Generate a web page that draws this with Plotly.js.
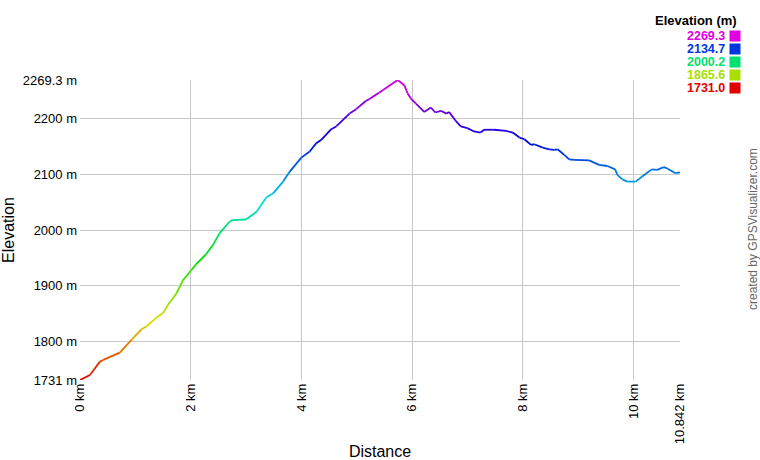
<!DOCTYPE html>
<html>
<head>
<meta charset="utf-8">
<script src="https://cdn.plot.ly/plotly-3.0.1.min.js"></script>
<style>
  html, body { margin: 0; padding: 0; background: #fff; }
  #chart { width: 760px; height: 460px; }
</style>
</head>
<body>
<div id="chart"></div>
<script>
// Track profile: distance (km) and elevation (m)
const distKm = [
  0, 0.18, 0.36, 0.42, 0.72, 0.93, 1.11, 1.20, 1.38, 1.50,
  1.59, 1.74, 1.86, 2.01, 2.10, 2.28, 2.40, 2.52, 2.70, 2.76,
  3.00, 3.19, 3.37, 3.49, 3.67, 3.79, 4.00, 4.15, 4.27, 4.36,
  4.54, 4.63, 4.87, 4.99, 5.17, 5.23, 5.41, 5.47, 5.74, 5.86,
  5.92, 5.98, 6.07, 6.22, 6.34, 6.42, 6.52, 6.62, 6.67, 6.79,
  6.88, 7.00, 7.12, 7.24, 7.30, 7.48, 7.70, 7.82, 7.94, 8.03,
  8.15, 8.21, 8.36, 8.48, 8.57, 8.63, 8.75, 8.84, 8.93, 9.20,
  9.38, 9.53, 9.67, 9.71, 9.80, 9.89, 10.04, 10.16, 10.33, 10.43,
  10.55, 10.62, 10.76, 10.842
];
const elevM = [
  1731, 1740, 1764, 1767, 1780, 1803, 1822, 1827, 1843, 1851,
  1866, 1886, 1910, 1928, 1939, 1957, 1973, 1994, 2015, 2018,
  2019, 2033, 2059, 2066, 2087, 2105, 2130, 2141, 2156, 2162,
  2181, 2186, 2209, 2217, 2232, 2235, 2247, 2251, 2269.3, 2260,
  2245, 2236, 2227, 2212, 2220, 2211, 2214, 2209, 2212, 2196,
  2186, 2183, 2177, 2175, 2180, 2180, 2178, 2175, 2166, 2163,
  2153, 2154, 2148, 2145, 2144, 2145, 2135, 2127, 2126, 2125,
  2117, 2115, 2109, 2099, 2091, 2087, 2087, 2096, 2109, 2108,
  2113, 2110, 2102, 2103.6
];

const yTickVals = [1731, 1800, 1900, 2000, 2100, 2200, 2269.3];
const yTickText = ['1731 m', '1800 m', '1900 m', '2000 m', '2100 m', '2200 m', '2269.3 m'];
const xTickVals = [0, 2, 4, 6, 8, 10, 10.842];
const xTickText = ['0 km', '2 km', '4 km', '6 km', '8 km', '10 km', '10.842 km'];

const legendVals = [2269.3, 2134.7, 2000.2, 1865.6, 1731.0];

const eMin = 1731, eMax = 2269.3;
const FONT = 'Liberation Sans, Arial, sans-serif';

// hue wheel red -> magenta by elevation
function elevColor(e) {
  const h = 300 * (e - eMin) / (eMax - eMin);
  return `hsl(${h.toFixed(1)}, 100%, 44%)`;
}

const traces = [];
for (let i = 0; i < distKm.length - 1; i++) {
  traces.push({
    x: [distKm[i], distKm[i + 1]],
    y: [elevM[i], elevM[i + 1]],
    type: 'scatter',
    mode: 'lines',
    line: { color: elevColor((elevM[i] + elevM[i + 1]) / 2), width: 1.8 },
    hoverinfo: 'skip',
    showlegend: false,
  });
}

// colour key, top right (paper coords relative to 600x300 plot at 80,80)
const px = x => (x - 80) / 600;
const py = y => 1 + (80 - y) / 300;

const annotations = [{
  xref: 'paper', yref: 'paper', x: px(739), y: py(21),
  xanchor: 'right', yanchor: 'middle', showarrow: false,
  text: '<b>Elevation (m)</b>', font: { family: FONT, size: 13, color: '#000' },
}];
legendVals.forEach((v, i) => {
  const yc = 36 + i * 13;
  annotations.push({
    xref: 'paper', yref: 'paper', x: px(726), y: py(yc),
    xanchor: 'right', yanchor: 'middle', showarrow: false,
    text: '<b>' + v.toFixed(1) + '</b>', height: 12, borderpad: 0,
    font: { family: FONT, size: 12.5, color: elevColor(v) },
  });
  annotations.push({
    xref: 'paper', yref: 'paper', x: px(729), y: py(yc),
    xanchor: 'left', yanchor: 'middle', showarrow: false,
    text: ' ', bgcolor: elevColor(v), width: 10, height: 10, borderpad: 0,
    font: { size: 6 },
  });
});
annotations.push({
  xref: 'paper', yref: 'paper', x: px(753), y: py(229),
  xanchor: 'center', yanchor: 'middle', showarrow: false, textangle: -90,
  text: 'created by GPSVisualizer.com',
  font: { family: FONT, size: 12, color: '#666' },
});

const layout = {
  width: 760, height: 460,
  margin: { l: 80, r: 80, t: 80, b: 80 },
  paper_bgcolor: '#fff', plot_bgcolor: '#fff',
  font: { family: FONT, size: 13, color: '#000' },
  showlegend: false,
  xaxis: {
    range: [0, 10.842],
    tickvals: xTickVals, ticktext: xTickText,
    tickangle: -90,
    showgrid: true, gridcolor: '#c8c8c8', gridwidth: 1,
    zeroline: false, showline: false, ticks: '',
    tickfont: { family: FONT, size: 13, color: '#000' },
    title: { text: 'Distance', font: { family: FONT, size: 16, color: '#000' }, standoff: 16 },
    fixedrange: true,
  },
  yaxis: {
    range: [1731, 2269.3],
    tickvals: yTickVals, ticktext: yTickText,
    showgrid: true, gridcolor: '#c8c8c8', gridwidth: 1,
    zeroline: false, showline: false, ticks: '',
    ticklabelstandoff: 2,
    tickfont: { family: FONT, size: 13, color: '#000' },
    title: { text: 'Elevation', font: { family: FONT, size: 16, color: '#000' }, standoff: 4 },
    fixedrange: true,
  },
  annotations: annotations,
};

Plotly.newPlot('chart', traces, layout, { displayModeBar: false, staticPlot: true });
</script>
</body>
</html>
